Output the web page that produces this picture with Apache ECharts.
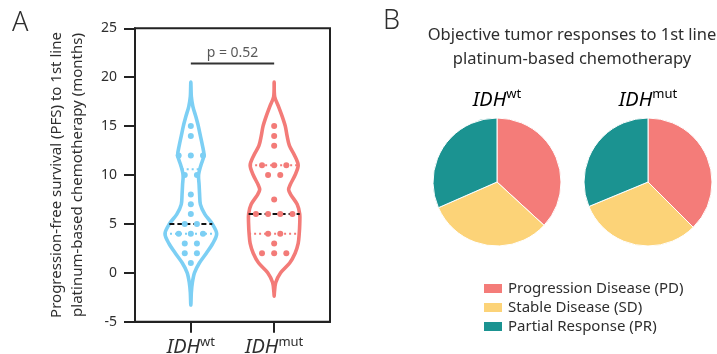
<!DOCTYPE html>
<html>
<head>
<meta charset="utf-8">
<script src="https://cdn.jsdelivr.net/npm/echarts@6/dist/echarts.min.js"></script>
<style>
  html, body { margin: 0; padding: 0; background: #fff; }
  #chart { width: 717px; height: 354px; }
</style>
</head>
<body>
<div id="chart"></div>
<script>
// ---- Panel A: progression-free survival (months) per patient ----
const groupNames = ['wt', 'mut'];
const pfsWt  = [15, 14, 12, 12, 12, 10, 10, 8, 7, 6, 5, 5, 4, 4, 4, 3, 3, 2, 2, 1];
const pfsMut = [15, 14, 13, 11, 11, 11, 10, 10, 7.5, 6, 6, 6, 6, 4, 4, 3, 2, 2, 2];

// summary lines drawn across each violin
const medians        = [5, 6];
const lowerQuartiles = [4, 4];
const upperQuartiles = [10.6, 11];

// violin outlines: relative density at each PFS level (1 = widest)
const violinLevelsWt  = [19.5, 18, 17, 16, 15, 14, 13, 12, 11, 10, 9, 8, 7, 6, 5, 4, 3, 2, 1, 0, -1, -2, -3.3];
const violinDensityWt = [0, 0.02, 0.08, 0.19, 0.29, 0.37, 0.45, 0.51, 0.39, 0.30, 0.32, 0.34, 0.37, 0.54, 0.83, 1.0, 0.85, 0.60, 0.33, 0.14, 0.06, 0.02, 0];
const violinLevelsMut  = [19.5, 18, 17, 16, 15, 14, 13, 12, 11, 10, 9, 8.5, 8, 7, 6, 5, 4, 3, 2, 1, 0, -1, -2, -2.4];
const violinDensityMut = [0, 0.02, 0.17, 0.31, 0.43, 0.50, 0.59, 0.79, 0.93, 0.81, 0.62, 0.56, 0.64, 0.89, 0.99, 0.99, 0.97, 0.93, 0.81, 0.60, 0.25, 0.06, 0.01, 0];

const yTicks = [-5, 0, 5, 10, 15, 20, 25];
const pValue = 0.52;
const bracketLevel = 21.4;

// ---- Panel B: objective tumour responses ----
const responseNames = ['Progression Disease (PD)', 'Stable Disease (SD)', 'Partial Response (PR)'];
const responsesWt  = [7, 6, 6];
const responsesMut = [6, 5, 5];

// ---- styling ----
const FONT = 'Noto Sans';
const INK = '#2e2e2e';
const BLUE = '#7ccff4';
const RED = '#f37b78';
const responseColors = ['#f47c79', '#fcd378', '#1b9391'];
const VIOLIN_HALF = 0.31;   // widest half-width, in x units
const DOT_STEP = 0.073;     // half spacing between side-by-side dots

const chart = echarts.init(document.getElementById('chart'), null, { renderer: 'canvas' });

function widthAt(levels, dens, v) {
  for (let i = 0; i < levels.length - 1; i++) {
    const a = levels[i], b = levels[i + 1];
    if ((v <= a && v >= b)) {
      const t = (a - v) / (a - b);
      return dens[i] + (dens[i + 1] - dens[i]) * t;
    }
  }
  return 0;
}

function swarm(values, center) {
  const counts = {};
  values.forEach(v => { counts[v] = (counts[v] || 0) + 1; });
  const seen = {};
  return values.map(v => {
    const n = counts[v];
    const k = seen[v] = (seen[v] === undefined ? 0 : seen[v] + 1);
    const slot = -(n - 1) + 2 * k;
    return [center + slot * DOT_STEP, v];
  });
}

function violinSeries(center, levels, dens, color) {
  return {
    type: 'custom',
    silent: true,
    z: 2,
    data: [[center, 0]],
    renderItem: function (params, api) {
      const left = levels.map((v, i) => api.coord([center - dens[i] * VIOLIN_HALF, v]));
      const right = [];
      for (let i = levels.length - 2; i >= 1; i--) {
        right.push(api.coord([center + dens[i] * VIOLIN_HALF, levels[i]]));
      }
      return {
        type: 'polygon',
        shape: { points: left.concat(right), smooth: 0.3 },
        style: { fill: null, stroke: color, lineWidth: 3.6 }
      };
    }
  };
}

function statLineSeries(center, levels, dens, value, color, dash) {
  const w = widthAt(levels, dens, value) * VIOLIN_HALF;
  return {
    type: 'line',
    silent: true,
    z: 3,
    symbol: 'none',
    data: [[center - w, value], [center + w, value]],
    lineStyle: { color: color, width: 2, type: dash }
  };
}

function dotSeries(values, center, color) {
  return {
    type: 'scatter',
    silent: true,
    z: 4,
    symbolSize: 6,
    data: swarm(values, center),
    itemStyle: { color: color, opacity: 1 }
  };
}

const idhRich = {
  i: { fontFamily: FONT, fontSize: 20, fontStyle: 'italic', color: INK, lineHeight: 24 },
  s: { fontFamily: FONT, fontSize: 13, color: INK, lineHeight: 24, verticalAlign: 'top', padding: [0, 0, 9, 0] }
};

const option = {
  backgroundColor: '#fff',
  animation: false,
  textStyle: { fontFamily: FONT },
  grid: {
    left: 135, right: 387, top: 28.3, bottom: 32.3,
    containLabel: false, outerBoundsMode: 'none',
    show: true, borderColor: '#222', borderWidth: 2, backgroundColor: 'transparent'
  },
  xAxis: {
    type: 'value',
    min: 0.33, max: 2.67,
    splitLine: { show: false },
    axisLine: { show: true, onZero: false, lineStyle: { color: '#222', width: 2 } },
    axisTick: { show: true, customValues: [1, 2], length: 11, lineStyle: { color: '#222', width: 2 } },
    axisLabel: {
      show: true, customValues: [1, 2], margin: 14,
      formatter: v => '{i|IDH}{s|' + groupNames[Math.round(v) - 1] + '}',
      rich: idhRich
    }
  },
  yAxis: {
    type: 'value',
    min: yTicks[0], max: yTicks[yTicks.length - 1], interval: 5,
    splitLine: { show: false },
    axisLine: { show: true, onZero: false, lineStyle: { color: '#222', width: 2 } },
    axisTick: { show: true, length: 11, lineStyle: { color: '#222', width: 2 } },
    axisLabel: { fontFamily: FONT, fontSize: 14, color: INK, margin: 18 }
  },
  legend: {
    data: responseNames,
    orient: 'vertical',
    left: 477, top: 276,
    icon: 'rect',
    itemWidth: 20, itemHeight: 11, itemGap: 4,
    textStyle: { fontFamily: FONT, fontSize: 15, color: INK, lineHeight: 15 },
    selectedMode: false
  },
  graphic: [
    { type: 'text', left: 12, top: 10, style: { text: 'A', font: '300 27px "' + FONT + '"', fill: INK } },
    { type: 'text', left: 383, top: 8, style: { text: 'B', font: '300 27px "' + FONT + '"', fill: INK } },
    {
      type: 'text', x: 67, y: 175, rotation: Math.PI / 2,
      style: {
        text: 'Progression-free survival (PFS) to 1st line\nplatinum-based chemotherapy (months)',
        font: '15px "' + FONT + '"', fill: INK, align: 'center', verticalAlign: 'middle', lineHeight: 21
      }
    },
    {
      type: 'text', x: 572, y: 47,
      style: {
        text: 'Objective tumor responses to 1st line\nplatinum-based chemotherapy',
        font: '16.5px "' + FONT + '"', fill: INK, align: 'center', verticalAlign: 'middle', lineHeight: 24
      }
    },
    {
      type: 'text', x: 497, y: 100,
      style: { text: '{i|IDH}{s|' + groupNames[0] + '}', rich: idhRich, align: 'center', verticalAlign: 'middle' }
    },
    {
      type: 'text', x: 648, y: 100,
      style: { text: '{i|IDH}{s|' + groupNames[1] + '}', rich: idhRich, align: 'center', verticalAlign: 'middle' }
    }
  ],
  series: [
    violinSeries(1, violinLevelsWt, violinDensityWt, BLUE),
    violinSeries(2, violinLevelsMut, violinDensityMut, RED),
    statLineSeries(1, violinLevelsWt, violinDensityWt, upperQuartiles[0], BLUE, [2, 3]),
    statLineSeries(1, violinLevelsWt, violinDensityWt, lowerQuartiles[0], BLUE, [2, 3]),
    statLineSeries(2, violinLevelsMut, violinDensityMut, upperQuartiles[1], RED, [2, 3]),
    statLineSeries(2, violinLevelsMut, violinDensityMut, lowerQuartiles[1], RED, [2, 3]),
    statLineSeries(1, violinLevelsWt, violinDensityWt, medians[0], '#111', [5, 3]),
    statLineSeries(2, violinLevelsMut, violinDensityMut, medians[1], '#111', [5, 3]),
    dotSeries(pfsWt, 1, BLUE),
    dotSeries(pfsMut, 2, RED),
    {
      type: 'line', silent: true, symbol: 'none', z: 3,
      data: [[1, bracketLevel], [2, bracketLevel]],
      lineStyle: { color: '#333', width: 2 }
    },
    {
      type: 'scatter', silent: true, symbolSize: 0,
      data: [[1.5, bracketLevel]],
      label: {
        show: true, position: 'top', distance: 3,
        formatter: 'p = ' + pValue, fontFamily: FONT, fontSize: 14, color: INK
      }
    },
    {
      type: 'pie', name: 'wt', center: [497, 182], radius: 64, startAngle: 90,
      label: { show: false }, labelLine: { show: false }, silent: true,
      itemStyle: { borderColor: '#fff', borderWidth: 1 },
      data: responseNames.map((n, i) => ({ name: n, value: responsesWt[i], itemStyle: { color: responseColors[i] } }))
    },
    {
      type: 'pie', name: 'mut', center: [648, 182], radius: 64, startAngle: 90,
      label: { show: false }, labelLine: { show: false }, silent: true,
      itemStyle: { borderColor: '#fff', borderWidth: 1 },
      data: responseNames.map((n, i) => ({ name: n, value: responsesMut[i], itemStyle: { color: responseColors[i] } }))
    }
  ]
};

chart.setOption(option);
</script>
</body>
</html>
